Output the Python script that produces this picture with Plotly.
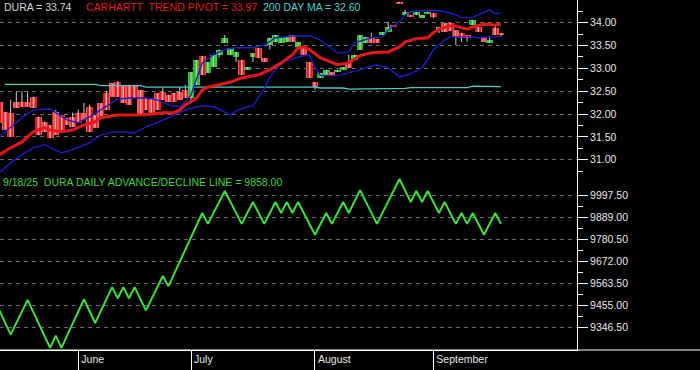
import plotly.graph_objects as go

# ---------------- data ----------------
DATES = [
    "05-12", "05-13", "05-14", "05-15", "05-16", "05-19", "05-20", "05-21", "05-22", "05-23",
    "05-27", "05-28", "05-29", "05-30",
    "06-02", "06-03", "06-04", "06-05", "06-06", "06-09", "06-10", "06-11", "06-12", "06-13",
    "06-16", "06-17", "06-18", "06-20", "06-23", "06-24", "06-25", "06-26", "06-27", "06-30",
    "07-01", "07-02", "07-03", "07-07", "07-08", "07-09", "07-10", "07-11", "07-14", "07-15",
    "07-16", "07-17", "07-18", "07-21", "07-22", "07-23", "07-24", "07-25", "07-28", "07-29",
    "07-30", "07-31",
    "08-01", "08-04", "08-05", "08-06", "08-07", "08-08", "08-11", "08-12", "08-13", "08-14",
    "08-15", "08-18", "08-19", "08-20", "08-21", "08-22", "08-25", "08-26", "08-27", "08-28",
    "08-29",
    "09-02", "09-03", "09-04", "09-05", "09-08", "09-09", "09-10", "09-11", "09-12", "09-15",
    "09-16", "09-17", "09-18",
]

OPEN = [
    32.27, 32.05, 32.03, 32.27, 32.27, 32.27, 32.38, 31.94, 31.83, 31.76,
    32.05, 31.98, 31.92, 31.94,
    32.03, 32.03, 32.16, 31.98, 32.24, 32.46, 32.68, 32.70, 32.64, 32.64,
    32.64, 32.53, 32.35, 32.35, 32.46, 32.49, 32.42, 32.46, 32.49, 32.53,
    32.35, 32.64, 33.27, 32.90, 33.03, 33.30, 33.56, 33.30, 33.25, 33.19,
    32.97, 33.25, 33.45, 33.23, 33.51, 33.58, 33.56, 33.58, 33.73, 33.47,
    33.47, 33.14,
    32.70, 32.79, 32.86, 32.92, 32.92, 32.97, 33.14, 33.19, 33.41, 33.56,
    33.67, 33.65, 33.73, 33.80, 33.95, 34.46, 34.17, 34.17, 34.17, 34.11,
    34.21,
    34.21, 33.84, 34.00, 34.00, 33.84, 33.78, 33.73, 33.95, 33.91, 33.67,
    33.56, 33.89, 33.78,
]
CLOSE = [
    31.81, 31.65, 31.50, 32.14, 32.16, 32.16, 32.14, 31.54, 31.61, 31.48,
    31.54, 31.61, 31.76, 31.72,
    31.81, 31.87, 31.61, 31.70, 31.94, 32.09, 32.38, 32.38, 32.24, 32.20,
    32.35, 31.98, 32.09, 31.98, 32.09, 32.31, 32.27, 32.27, 32.31, 32.35,
    32.92, 33.19, 32.86, 33.14, 33.30, 33.41, 33.67, 33.45, 33.36, 32.86,
    33.03, 33.34, 33.23, 33.14, 33.67, 33.73, 33.67, 33.69, 33.58, 33.58,
    33.30, 32.79,
    32.59, 32.90, 32.97, 32.86, 32.97, 33.03, 33.01, 33.30, 33.73, 33.69,
    33.56, 33.56, 33.80, 33.91, 33.91, 34.43, 34.24, 34.13, 34.24, 34.17,
    34.24,
    34.13, 33.91, 33.80, 33.82, 33.69, 33.67, 33.67, 34.06, 33.80, 33.58,
    33.62, 33.73, 33.74,
]
HIGH = [
    32.27, 32.05, 32.31, 32.49, 32.50, 32.49, 32.38, 31.94, 31.83, 31.76,
    32.09, 31.98, 31.92, 32.03,
    32.10, 32.24, 32.20, 31.98, 32.24, 32.50, 32.68, 32.72, 32.64, 32.64,
    32.64, 32.53, 32.35, 32.35, 32.46, 32.57, 32.42, 32.46, 32.59, 32.64,
    32.92, 33.19, 33.27, 33.14, 33.30, 33.41, 33.73, 33.45, 33.36, 33.19,
    33.03, 33.34, 33.45, 33.23, 33.67, 33.73, 33.67, 33.69, 33.73, 33.58,
    33.47, 33.14,
    32.70, 32.90, 32.97, 32.92, 32.97, 33.03, 33.30, 33.30, 33.73, 33.69,
    33.78, 33.65, 33.80, 34.02, 33.95, 34.46, 34.28, 34.17, 34.24, 34.17,
    34.24,
    34.21, 33.91, 34.00, 34.00, 33.84, 33.78, 33.73, 34.06, 33.91, 33.67,
    33.67, 33.93, 33.78,
]
LOW = [
    31.81, 31.65, 31.50, 32.14, 32.16, 32.16, 32.14, 31.54, 31.61, 31.48,
    31.54, 31.61, 31.76, 31.72,
    31.81, 31.87, 31.61, 31.70, 31.94, 32.09, 32.38, 32.38, 32.24, 32.20,
    32.35, 31.98, 32.09, 31.98, 32.09, 32.31, 32.27, 32.27, 32.31, 32.35,
    32.30, 32.64, 32.86, 32.90, 33.03, 33.24, 33.56, 33.30, 33.14, 32.86,
    32.97, 33.14, 33.23, 33.14, 33.41, 33.58, 33.56, 33.58, 33.58, 33.47,
    33.30, 32.79,
    32.53, 32.79, 32.86, 32.86, 32.92, 32.97, 33.01, 33.19, 33.41, 33.56,
    33.56, 33.56, 33.73, 33.80, 33.91, 34.43, 34.17, 34.13, 34.17, 34.11,
    34.21,
    34.10, 33.77, 33.80, 33.82, 33.51, 33.58, 33.58, 33.95, 33.80, 33.58,
    33.56, 33.73, 33.70,
]

PIVOT_DATES = [
    "05-12", "05-14", "05-16", "05-20", "05-22", "05-23", "05-28", "05-30", "06-03", "06-05",
    "06-06", "06-10", "06-11", "06-13", "06-17", "06-20", "06-24", "06-26", "06-27", "06-30",
    "07-02", "07-03", "07-07", "07-09", "07-11", "07-15", "07-17", "07-18", "07-22", "07-24",
    "07-28", "07-29", "07-30", "07-31", "08-04", "08-06", "08-07", "08-11", "08-13", "08-15",
    "08-19", "08-20", "08-22", "08-25", "08-27", "08-29", "09-02", "09-03", "09-05", "09-08",
    "09-09", "09-10", "09-11", "09-15", "09-17", "09-18",
]
PIVOT_VALUES = [
    31.11, 31.26, 31.39, 31.61, 31.70, 31.65, 31.61, 31.65, 31.76, 31.83,
    31.92, 31.96, 31.98, 31.98, 31.98, 32.00, 32.03, 32.03, 32.09, 32.20,
    32.35, 32.53, 32.59, 32.64, 32.70, 32.79, 32.84, 32.86, 32.97, 33.12,
    33.30, 33.45, 33.47, 33.41, 33.23, 33.12, 33.08, 33.12, 33.28, 33.34,
    33.36, 33.36, 33.47, 33.58, 33.65, 33.67, 33.78, 33.86, 33.93, 33.93,
    33.89, 33.86, 33.91, 33.97, 33.95, 33.97,
]

UPPER_DATES = [
    "05-12", "05-14", "05-16", "05-20", "05-23", "05-27", "05-29", "06-02", "06-04", "06-06",
    "06-10", "06-11", "06-13", "06-18", "06-23", "06-25", "06-27", "06-30", "07-01", "07-02",
    "07-03", "07-08", "07-10", "07-14", "07-17", "07-21", "07-23", "07-28", "07-31", "08-04",
    "08-07", "08-11", "08-12", "08-15", "08-19", "08-20", "08-22", "08-25", "08-26", "08-28",
    "09-03", "09-04", "09-08", "09-09", "09-11", "09-12", "09-15", "09-16", "09-17", "09-18",
]
UPPER_VALUES = [
    31.50, 31.70, 31.92, 32.09, 32.11, 32.03, 31.87, 31.81, 31.94, 32.09,
    32.24, 32.33, 32.35, 32.35, 32.31, 32.20, 32.16, 32.27, 32.42, 32.75,
    33.12, 33.30, 33.41, 33.45, 33.45, 33.51, 33.67, 33.71, 33.71, 33.62,
    33.34, 33.36, 33.56, 33.67, 33.69, 33.84, 34.02, 34.17, 34.24, 34.26,
    34.26, 34.24, 34.17, 34.11, 34.11, 34.17, 34.22, 34.28, 34.19, 34.22,
]

LOWER_DATES = [
    "05-12", "05-14", "05-16", "05-20", "05-22", "05-28", "05-30", "06-04", "06-06", "06-10",
    "06-12", "06-16", "06-18", "06-23", "06-25", "06-27", "06-30", "07-02", "07-03", "07-08",
    "07-10", "07-11", "07-14", "07-16", "07-17", "07-21", "07-22", "07-24", "07-29", "07-31",
    "08-01", "08-04", "08-07", "08-11", "08-14", "08-18", "08-20", "08-22", "08-26", "08-28",
    "08-29", "09-02", "09-04", "09-05", "09-11", "09-12", "09-16", "09-18",
]
LOWER_VALUES = [
    30.71, 30.93, 31.11, 31.26, 31.33, 31.15, 31.22, 31.37, 31.54, 31.61,
    31.61, 31.59, 31.72, 31.81, 31.92, 32.03, 32.09, 32.16, 32.18, 32.16,
    32.05, 31.98, 32.07, 32.16, 32.18, 32.55, 32.81, 33.12, 33.25, 33.30,
    33.03, 32.84, 32.84, 32.90, 33.01, 33.08, 33.01, 32.81, 32.88, 33.01,
    33.19, 33.41, 33.62, 33.69, 33.69, 33.67, 33.69, 33.69,
]

MA200_DATES = [
    "05-13", "06-05", "06-06", "06-17", "06-18", "08-01", "08-04", "08-08", "08-11", "08-18",
    "08-19", "08-25", "08-26", "09-10", "09-11", "09-15", "09-16", "09-18",
]
MA200_VALUES = [
    32.65, 32.65, 32.62, 32.62, 32.59, 32.59, 32.57, 32.57, 32.545, 32.545,
    32.56, 32.56, 32.58, 32.58, 32.61, 32.61, 32.60, 32.60,
]

AD_DATES = [
    "05-12", "05-14", "05-19", "05-23", "05-27", "05-28", "06-03", "06-05", "06-10", "06-11",
    "06-12", "06-13", "06-16", "06-18", "06-24", "06-25", "07-03", "07-07", "07-10", "07-15",
    "07-17", "07-21", "07-23", "07-24", "07-25", "07-28", "07-29", "08-01", "08-05", "08-06",
    "08-08", "08-11", "08-13", "08-18", "08-22", "08-26", "08-27", "08-28", "08-29", "09-03",
    "09-04", "09-08", "09-09", "09-10", "09-11", "09-15", "09-17", "09-18",
]
AD_VALUES = [
    9430, 9310, 9482, 9245, 9305, 9245, 9485, 9368, 9545, 9490,
    9545, 9490, 9545, 9430, 9600, 9550, 9912, 9858, 10021, 9858,
    9966, 9858, 9966, 9912, 9966, 9912, 9966, 9804, 9912, 9858,
    9966, 9912, 10025, 9858, 10080, 9966, 10021, 9966, 10021, 9912,
    9966, 9858, 9912, 9858, 9912, 9804, 9912, 9858,
]

PRICE_TICKS = [31.0, 31.5, 32.0, 32.5, 33.0, 33.5, 34.0, 34.5]
PRICE_MINOR = [30.75, 31.25, 31.75, 32.25, 32.75, 33.25, 33.75, 34.25]
AD_TICKS = [9346.5, 9455.0, 9563.5, 9672.0, 9780.5, 9889.0, 9997.5]
AD_MINOR = [9400.75, 9509.25, 9617.75, 9726.25, 9834.75, 9943.25]
MONTH_TICKS = ["06-02", "07-01", "08-01", "09-02"]
MONTH_LABELS = ["June", "July", "August", "September"]

# ---------------- style ----------------
FONT = "Liberation Sans, Arial, sans-serif"
RED = "#e8161b"
RED_DARK = "#a01015"
GREEN = "#2bd82b"
GREEN_DARK = "#179a17"
BLUE = "#1e1ec8"
CYAN = "#3fcfcf"
WICK = "#cfcfcf"
GRID = "#6a6a6a"

fig = go.Figure()

# candle wicks
wx, wy = [], []
for d, h, l in zip(DATES, HIGH, LOW):
    wx += [d, d, None]
    wy += [l, h, None]
fig.add_trace(go.Scatter(x=wx, y=wy, mode="lines", line=dict(color=WICK, width=1),
                         yaxis="y", hoverinfo="skip"))

# candle bodies
body_base = [min(o, c) for o, c in zip(OPEN, CLOSE)]
body_h = [max(abs(c - o), 0.02) for o, c in zip(OPEN, CLOSE)]
up = [c > o for o, c in zip(OPEN, CLOSE)]
body_col = [GREEN if u else RED for u in up]
body_shade = [GREEN_DARK if u else RED_DARK for u in up]
fig.add_trace(go.Bar(x=DATES, y=body_h, base=body_base, width=1.2,
                     marker=dict(color=body_col, line=dict(width=0),
                                 pattern=dict(shape="|", fgcolor=body_shade, fillmode="overlay",
                                              size=4, solidity=0.3)),
                     yaxis="y", hoverinfo="skip"))

fig.add_trace(go.Scatter(x=MA200_DATES, y=MA200_VALUES, mode="lines",
                         line=dict(color=CYAN, width=1.3), yaxis="y", hoverinfo="skip"))
fig.add_trace(go.Scatter(x=UPPER_DATES, y=UPPER_VALUES, mode="lines",
                         line=dict(color=BLUE, width=1.4), yaxis="y", hoverinfo="skip"))
fig.add_trace(go.Scatter(x=LOWER_DATES, y=LOWER_VALUES, mode="lines",
                         line=dict(color=BLUE, width=1.4), yaxis="y", hoverinfo="skip"))
fig.add_trace(go.Scatter(x=PIVOT_DATES, y=PIVOT_VALUES, mode="lines",
                         line=dict(color=RED, width=3), yaxis="y", hoverinfo="skip"))

fig.add_trace(go.Scatter(x=AD_DATES, y=AD_VALUES, mode="lines",
                         line=dict(color="#3be03b", width=2), yaxis="y2", hoverinfo="skip"))

yaxis_common = dict(
    side="right", anchor="x", showline=True, linecolor="white", linewidth=1,
    ticks="outside", ticklen=10, tickcolor="white", tickwidth=1,
    tickfont=dict(family=FONT, size=10.5, color="#e6e6e6"),
    showgrid=True, gridcolor=GRID, gridwidth=1, griddash="4px,4px",
    zeroline=False, fixedrange=True,
)

fig.update_layout(
    width=700, height=370,
    margin=dict(l=0, r=123, t=0, b=20),
    paper_bgcolor="black", plot_bgcolor="black",
    showlegend=False, bargap=0,
    xaxis=dict(
        type="category", categoryorder="array", categoryarray=DATES,
        range=[0.106, 102.5], anchor="y2", showgrid=False,
        showline=True, linecolor="white", linewidth=1,
        ticks="outside", ticklen=20, tickcolor="white", tickwidth=1,
        tickvals=MONTH_TICKS, ticktext=MONTH_LABELS,
        ticklabelposition="outside right", ticklabelstandoff=-1, ticklabelshift=2,
        tickfont=dict(family=FONT, size=10.5, color="#e6e6e6"),
        fixedrange=True,
    ),
    yaxis=dict(
        domain=[0.5, 1], range=[30.665, 34.497],
        tickvals=PRICE_TICKS, ticktext=[f"{v:.2f}" if v < 34.4 else "" for v in PRICE_TICKS],
        minor=dict(tickvals=PRICE_MINOR, ticks="outside", ticklen=5, tickcolor="white", showgrid=False),
        **yaxis_common,
    ),
    yaxis2=dict(
        domain=[0, 0.5], range=[9234.2, 10099.9],
        tickvals=AD_TICKS, ticktext=[f"{v:.2f}" for v in AD_TICKS],
        minor=dict(tickvals=AD_MINOR, ticks="outside", ticklen=5, tickcolor="white", showgrid=False),
        **yaxis_common,
    ),
)

# bottom rule extending under the price labels
fig.add_shape(type="line", xref="paper", yref="paper", x0=0, x1=1.25, y0=0, y1=0,
              line=dict(color="white", width=1), layer="above")

head_y = 1 - 7 / 350
ann = [
    (0.003, head_y, f"DURA = {CLOSE[-1]:.2f}", "#d8d8d8"),
    (84 / 577, head_y, f"CARHARTT\u00a0 TREND PIVOT = {PIVOT_VALUES[-1]:.2f}", RED),
    (261 / 577, head_y, f"200 DAY MA = {MA200_VALUES[-1]:.2f}", CYAN),
    (0.001, 1 - 181.5 / 350, f"9/18/25\u00a0 DURA DAILY ADVANCE/DECLINE LINE = {AD_VALUES[-1]:.2f}",
     "#3ad43a"),
]
for x, y, t, c in ann:
    fig.add_annotation(x=x, y=y, xref="paper", yref="paper", text=t, showarrow=False,
                       xanchor="left", yanchor="middle",
                       font=dict(family=FONT, size=10.5, color=c))

fig.write_html(
    "out.html",
    config={"displayModeBar": False},
    post_script="document.body.style.margin='0px';document.body.style.overflow='hidden';",
)
